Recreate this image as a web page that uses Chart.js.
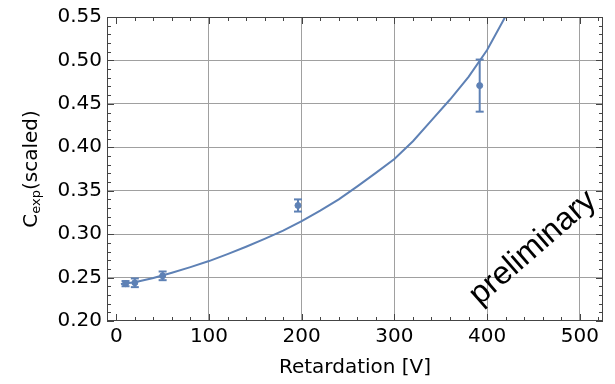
<!DOCTYPE html>
<html>
<head>
<meta charset="utf-8">
<script src="https://cdn.jsdelivr.net/npm/chart.js@4"></script>
<style>
  body { margin: 0; background: #fff; }
  #wrap { width: 615px; height: 384px; }
</style>
</head>
<body>
<div id="wrap"><canvas id="chart" width="615" height="384"></canvas></div>
<script>
// measured points with their uncertainties
const retardation = [10, 20, 50, 196, 392];
const cexp = [0.243, 0.244, 0.252, 0.333, 0.471];
const cexpErr = [0.003, 0.005, 0.005, 0.007, 0.030];

// model curve
const fitRetardation = [5, 20, 40, 60, 80, 100, 120, 140, 160, 180, 200, 220, 240, 260, 280, 300, 320, 340, 360, 380, 400, 420];
const fitCexp = [0.2425, 0.2445, 0.2495, 0.2555, 0.262, 0.269, 0.277, 0.2855, 0.2945, 0.304, 0.315, 0.327, 0.340, 0.355, 0.3705, 0.3865, 0.407, 0.431, 0.455, 0.481, 0.512, 0.551];

const xRange = [-10, 525];
const yRange = [0.2, 0.55];

const BLUE = "#5e81b5";
const FONT = "'DejaVu Sans', sans-serif";

function line(ctx, x1, y1, x2, y2) {
  ctx.beginPath();
  ctx.moveTo(x1, y1);
  ctx.lineTo(x2, y2);
  ctx.stroke();
}

const decorations = {
  id: "decorations",
  afterDatasetsDraw(chart) {
    const { ctx, scales: { x, y } } = chart;
    ctx.save();
    ctx.strokeStyle = BLUE;
    ctx.lineWidth = 2;
    retardation.forEach((v, i) => {
      const px = x.getPixelForValue(v);
      const top = y.getPixelForValue(cexp[i] + cexpErr[i]);
      const bot = y.getPixelForValue(cexp[i] - cexpErr[i]);
      line(ctx, px, top, px, bot);
      line(ctx, px - 4, top, px + 4, top);
      line(ctx, px - 4, bot, px + 4, bot);
    });
    ctx.restore();
  },
  afterDraw(chart) {
    const { ctx, chartArea: a, scales: { x, y } } = chart;
    ctx.save();
    ctx.strokeStyle = "#444";
    ctx.lineWidth = 1;
    ctx.strokeRect(a.left + 0.5, a.top + 0.5, a.width - 1, a.height - 1);

    // inward ticks on all four sides
    for (let v = 0; v <= 520; v += 20) {
      const px = Math.round(x.getPixelForValue(v)) + 0.5;
      const len = v % 100 === 0 ? 7 : 4;
      line(ctx, px, a.bottom, px, a.bottom - len);
      line(ctx, px, a.top, px, a.top + len);
    }
    for (let k = 20; k <= 55; k++) {
      const py = Math.round(y.getPixelForValue(k / 100)) + 0.5;
      const len = k % 5 === 0 ? 7 : 4;
      line(ctx, a.left, py, a.left + len, py);
      line(ctx, a.right, py, a.right - len, py);
    }

    // y axis title with subscript
    ctx.fillStyle = "#000";
    ctx.translate(32, (a.top + a.bottom) / 2);
    ctx.rotate(-Math.PI / 2);
    ctx.textBaseline = "middle";
    ctx.textAlign = "left";
    const big = "20px " + FONT, small = "13px " + FONT;
    ctx.font = big;
    const wC = ctx.measureText("C").width;
    const wR = ctx.measureText("(scaled)").width;
    ctx.font = small;
    const wS = ctx.measureText("exp").width;
    let cx = -(wC + wS + wR) / 2;
    ctx.font = big;
    ctx.fillText("C", cx, 0);
    cx += wC;
    ctx.font = small;
    ctx.fillText("exp", cx, 5);
    cx += wS;
    ctx.font = big;
    ctx.fillText("(scaled)", cx, 0);
    ctx.restore();

    // watermark
    ctx.save();
    ctx.translate(533, 248);
    ctx.rotate(-41 * Math.PI / 180);
    ctx.font = "32px 'Liberation Sans', Arial, sans-serif";
    ctx.fillStyle = "#000";
    ctx.textAlign = "center";
    ctx.textBaseline = "middle";
    ctx.fillText("preliminary", 0, 0);
    ctx.restore();
  }
};

const gridColor = (edgeValues) => (c) =>
  edgeValues.some((e) => Math.abs(c.tick.value - e) < 1e-9) ? "rgba(0,0,0,0)" : "#a0a0a0";

new Chart(document.getElementById("chart").getContext("2d"), {
  type: "scatter",
  data: {
    datasets: [
      {
        label: "fit",
        data: fitRetardation.map((v, i) => ({ x: v, y: fitCexp[i] })),
        showLine: true,
        borderColor: BLUE,
        borderWidth: 2,
        pointRadius: 0,
        tension: 0,
      },
      {
        label: "data",
        data: retardation.map((v, i) => ({ x: v, y: cexp[i] })),
        backgroundColor: BLUE,
        borderColor: BLUE,
        pointRadius: 3,
        showLine: false,
      },
    ],
  },
  options: {
    responsive: false,
    animation: false,
    layout: { padding: { top: 15, right: 12 } },
    plugins: { legend: { display: false }, tooltip: { enabled: false } },
    scales: {
      x: {
        min: xRange[0],
        max: xRange[1],
        afterFit: (s) => { s.height = 63; },
        border: { display: false },
        grid: { color: gridColor([0]), drawTicks: false, lineWidth: 1 },
        ticks: {
          stepSize: 100,
          includeBounds: false,
          padding: 4,
          color: "#000",
          font: { family: FONT, size: 20 },
          maxRotation: 0,
        },
        title: {
          display: true,
          text: "Retardation [V]",
          color: "#000",
          font: { family: FONT, size: 20 },
          padding: { top: 0, bottom: 4 },
        },
      },
      y: {
        min: yRange[0],
        max: yRange[1],
        afterFit: (s) => { s.width = 107; },
        border: { display: false },
        grid: { color: gridColor([0.2, 0.55]), drawTicks: false, lineWidth: 1 },
        ticks: {
          stepSize: 0.05,
          includeBounds: false,
          padding: 5,
          color: "#000",
          font: { family: FONT, size: 20 },
          callback: (v) => v.toFixed(2),
        },
      },
    },
  },
  plugins: [decorations],
});
</script>
</body>
</html>
